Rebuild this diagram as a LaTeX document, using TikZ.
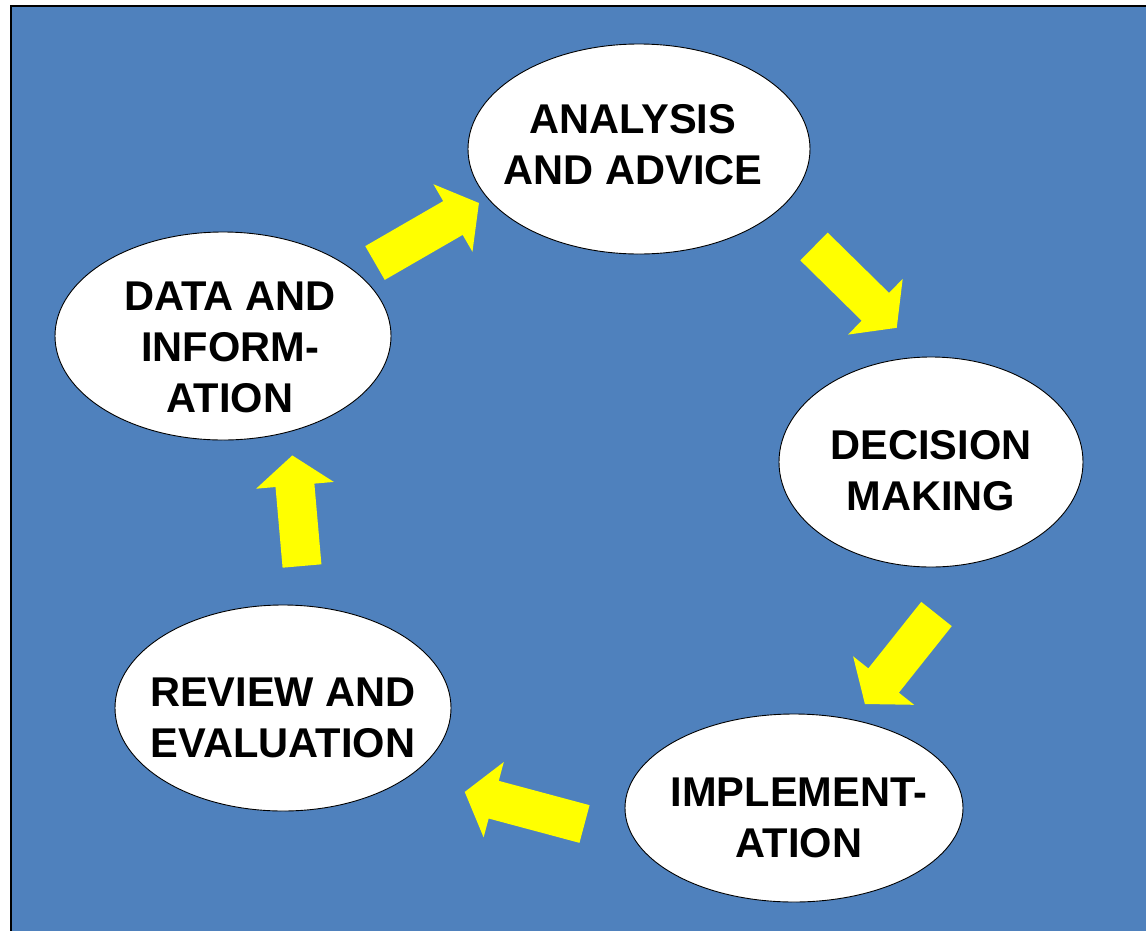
\documentclass[tikz,border=0pt]{standalone}
\usepackage{fontspec}
\setmainfont{Liberation Sans}
\usetikzlibrary{shapes.geometric}

\definecolor{slideblue}{HTML}{4F81BD}
\definecolor{arrowyellow}{HTML}{FFFF00}

\tikzset{
  stage/.style={ellipse, draw=black, line width=0.9pt, fill=white, inner sep=0pt},
  stagetext/.style={align=center, inner sep=0pt, font=\fontsize{41.6}{51}\selectfont\bfseries},
  yellowarrow/.style={fill=arrowyellow}
}

% tail x, tail y, angle, length
\newcommand{\blockarrow}[4]{%
  \fill[yellowarrow, shift={(#1,#2)}, rotate=#3] (0,-19.5) -- (#4-30,-19.5) -- (#4-30,-39) -- (#4,0) -- (#4-30,39) -- (#4-30,19.5) -- (0,19.5) -- cycle;}

\begin{document}
\begin{tikzpicture}[x=1pt, y=-1pt]
  \useasboundingbox (0,0) rectangle (1146,930);
  \fill[slideblue] (11,6) rectangle (1160,945);
  \draw[line width=2.5pt] (11,6) rectangle (1160,945);

  \node[stage, minimum width=342pt, minimum height=210pt,
    label={[stagetext, xshift=-6pt, yshift=4pt]center:{ANALYSIS\\AND ADVICE}}] (analysis) at (639,149) {};
  \node[stage, minimum width=336pt, minimum height=208pt,
    label={[stagetext, xshift=7pt, yshift=-11pt]center:{DATA AND\\INFORM-\\ATION}}] (data) at (223,336) {};
  \node[stage, minimum width=304pt, minimum height=210pt,
    label={[stagetext, yshift=-9pt]center:{DECISION\\MAKING}}] (decision) at (931,462) {};
  \node[stage, minimum width=338pt, minimum height=188pt,
    label={[stagetext, xshift=5pt, yshift=-10pt]center:{IMPLEMENT-\\ATION}}] (implement) at (794,808) {};
  \node[stage, minimum width=336pt, minimum height=206pt,
    label={[stagetext, yshift=-10pt]center:{REVIEW AND\\EVALUATION}}] (review) at (283,708) {};

  \blockarrow{375}{263}{30}{120}
  \blockarrow{814}{246.5}{-44.5}{116}
  \blockarrow{936.5}{614}{-128.5}{115}
  \blockarrow{584.5}{824}{165}{124}
  \blockarrow{302}{566}{95}{111}
\end{tikzpicture}
\end{document}
